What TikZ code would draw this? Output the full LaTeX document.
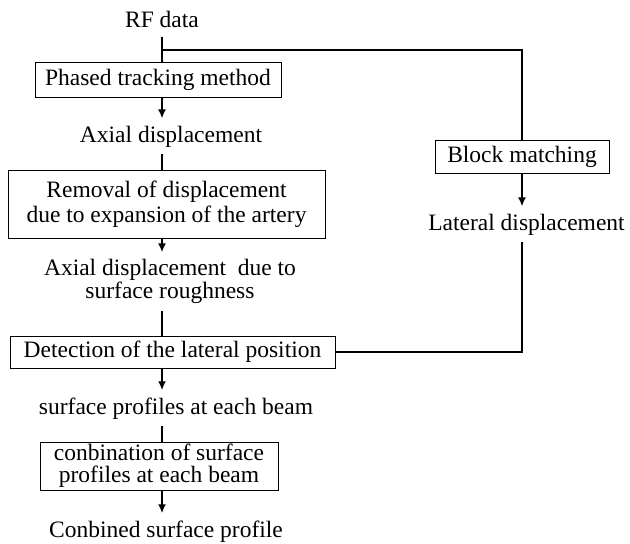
\documentclass[tikz,border=0pt]{standalone}
\usepackage{fontspec}
\setmainfont{Liberation Serif}
\usetikzlibrary{arrows.meta}

\begin{document}
\begin{tikzpicture}[x=1pt,y=-1pt,
  font=\fontsize{23.5}{22}\selectfont,
  box/.style={draw, line width=1pt, inner sep=0pt, align=center},
  txt/.style={inner xsep=0pt, inner ysep=7pt, align=center},
  con/.style={line width=1.8pt},
  arr/.style={con, -{Latex[length=9pt,width=8pt]}}]

\useasboundingbox (0,0) rectangle (630,544);

% main column
\node[txt, anchor=base, inner ysep=10pt] (rf) at (162,27) {RF data};
\coordinate (split) at (162,50);
\node[box, minimum width=246pt, minimum height=35pt] (phased) at (158,79.5) {Phased tracking method};
\node[txt, anchor=base] (axial1) at (171,142) {Axial displacement};
\node[box, minimum width=317pt, minimum height=68pt,
  font=\fontsize{23.5}{25}\selectfont] (removal) at (166.5,204.5) {Removal of displacement\\due to expansion of the artery};
\node[txt, font=\fontsize{23.5}{20.5}\selectfont] (axial2) at (170,281.5) {Axial displacement\ \ due to\\surface roughness};
\node[box, minimum width=325pt, minimum height=32pt] (detect) at (172.5,352) {Detection of the lateral position};
\node[txt, anchor=base] (surf) at (176,414) {surface profiles at each beam};
\node[box, minimum width=238pt, minimum height=48pt] (comb) at (159,466) {conbination of surface\\profiles at each beam};
\node[txt, anchor=base] (final) at (166,537) {Conbined surface profile};

% right branch
\node[box, minimum width=174pt, minimum height=33pt] (block) at (522,156.5) {Block matching};
\node[txt, anchor=base] (lat) at (526.5,230) {Lateral displacement};

\draw[con] (rf) -- (rf |- phased.north);
\draw[con] (split) -| (block);
\draw[arr] (phased.south -| rf) -- (axial1.north -| rf);
\draw[con] (axial1.south -| rf) -- (removal.north -| rf);
\draw[arr] (removal.south -| rf) -- (axial2.north -| rf);
\draw[con] (axial2.south -| rf) -- (detect.north -| rf);
\draw[arr] (detect.south -| rf) -- (surf.north -| rf);
\draw[con] (surf.south -| rf) -- (comb.north -| rf);
\draw[arr] (comb.south -| rf) -- (final.north -| rf);

\draw[arr] (block) -- (lat.north -| block);
\draw[con] (lat.south -| block) |- (detect);

\end{tikzpicture}
\end{document}
